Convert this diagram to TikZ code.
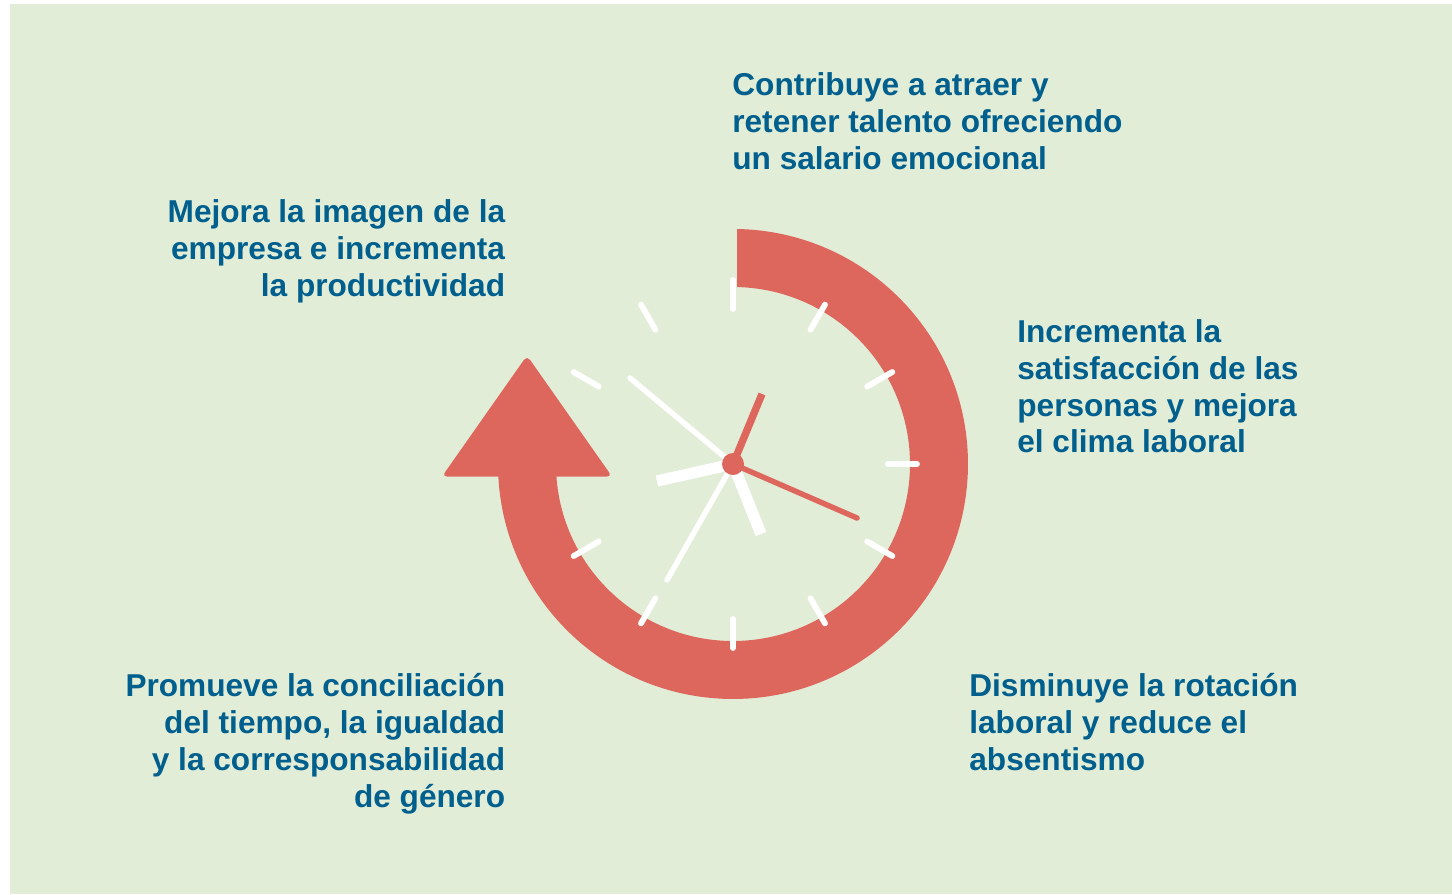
\documentclass[tikz,border=0pt]{standalone}
\usepackage{fontspec}
\setmainfont{Liberation Sans}
\definecolor{panelgreen}{HTML}{E2EDD8}
\definecolor{clockred}{HTML}{DE675D}
\definecolor{textblue}{HTML}{005F8C}
\tikzset{
	lefttext/.style={anchor=north east,align=right,inner sep=0pt,text=textblue,font=\fontsize{18}{21}\selectfont\bfseries},
	righttext/.style={anchor=north west,align=left,inner sep=0pt,text=textblue,font=\fontsize{18}{21}\selectfont\bfseries},
	tick/.style={draw=white,line width=3.3pt,line cap=round},
	thinhand/.style={line width=3.1pt,line cap=round},
	widehand/.style={line width=6.4pt}
}
\begin{document}
\begin{tikzpicture}[x=0.02cm,y=0.02cm]
	\useasboundingbox (-733,464) rectangle (719,-430);
	\fill [panelgreen] (-723,460) rectangle (719,-430);
	\coordinate (c) at (0,0);
	% ring and arrow head
	\fill [clockred] (4,235) arc [start angle=89.02,end angle=-177.07,radius=235]
		-- (-176.6,-12) arc [start angle=-176.11,end angle=88.7,radius=177] -- cycle;
	\fill [clockred,rounded corners=3pt] (-206,108.5) -- (-291,-12.5) -- (-121,-12.5) -- cycle;
	% dial
	\foreach \a in {0,30,60,90,120,150,210,240,270,300,330}
		\draw [tick] (\a:155) -- (\a:184);
	% hands
	\draw [white,thinhand] (c) -- (-103,86);
	\draw [white,thinhand] (c) -- (-66,-116);
	\draw [white,widehand] (c) -- (-76,-17);
	\draw [white,widehand] (c) -- (28,-70);
	\draw [clockred,line width=4.2pt] (c) -- (29,70);
	\draw [clockred,thinhand] (c) -- (124,-54);
	\fill [clockred] (c) circle (11);
	% texts
	\node [righttext] (talento) at (-1,392) {Contribuye a atraer y\\retener talento ofreciendo\\un salario emocional};
	\node [righttext] (clima) at (284,145) {Incrementa la\\satisfacción de las\\personas y mejora\\el clima laboral};
	\node [righttext] (rotacion) at (236,-209) {Disminuye la rotación\\laboral y reduce el\\absentismo};
	\node [lefttext] (imagen) at (-227.5,265) {Mejora la imagen de la\\empresa e incrementa\\la productividad};
	\node [lefttext] (genero) at (-227.5,-209) {Promueve la conciliación\\del tiempo, la igualdad\\y la corresponsabilidad\\de género};
\end{tikzpicture}
\end{document}
